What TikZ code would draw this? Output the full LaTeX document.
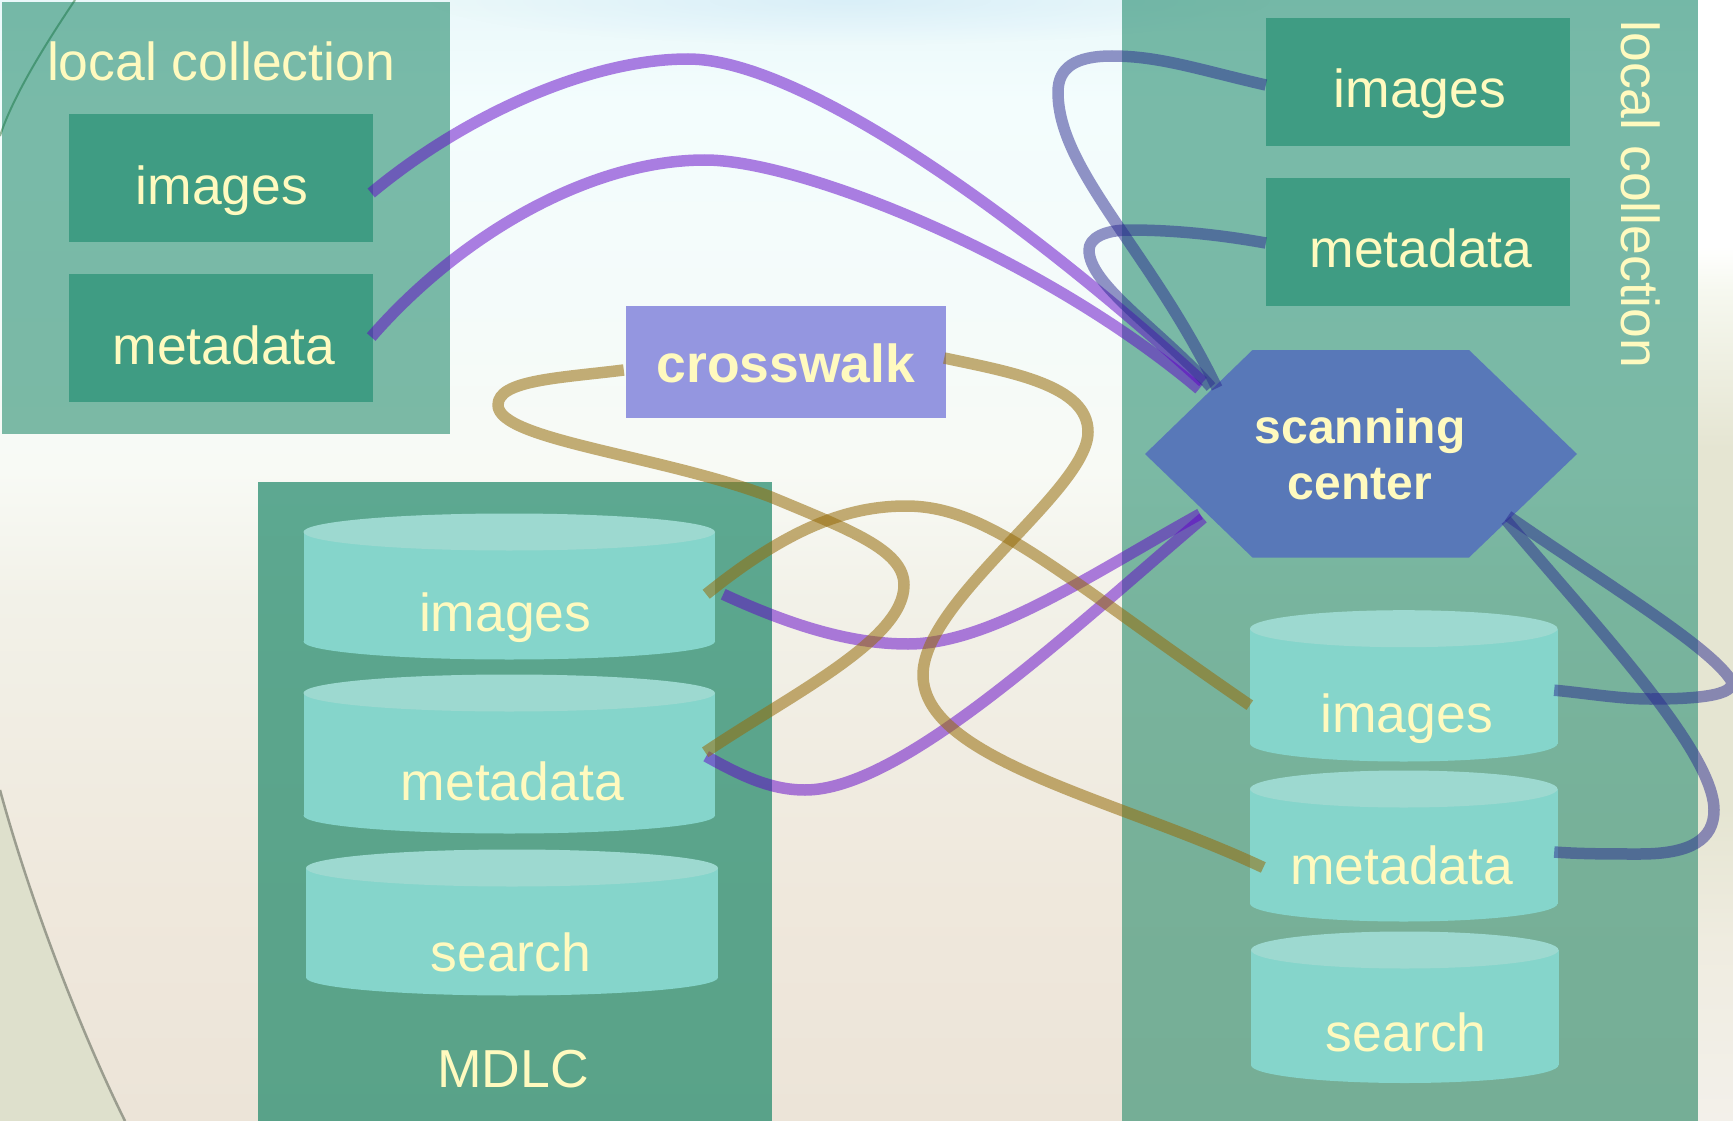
\documentclass[tikz,border=0pt]{standalone}
\usepackage{fontspec}
\setmainfont{Liberation Sans}
\usetikzlibrary{fadings}
\tikzfading[name=glowfade, inner color=transparent!25, outer color=transparent!100]
\definecolor{txtc}{HTML}{FFFABF}
\definecolor{panelc}{HTML}{007955}
\definecolor{mdlcc}{HTML}{1C8768}
\definecolor{innerc}{HTML}{3F9C83}
\definecolor{cylbody}{HTML}{85D5CB}
\definecolor{cyltop}{HTML}{9DD9D0}
\definecolor{crossc}{HTML}{9496E0}
\definecolor{hexc}{HTML}{5878B8}
\definecolor{purc}{HTML}{6000C8}
\definecolor{tanc}{HTML}{966C0A}
\definecolor{navc}{HTML}{2A2A90}
\definecolor{swoop}{HTML}{DEE0CC}
\definecolor{glowc}{HTML}{D4ECF8}
\definecolor{bgA}{HTML}{ECE4D8}\definecolor{bgB}{HTML}{EFE8DC}\definecolor{bgC}{HTML}{F2F1E8}
\definecolor{bgD}{HTML}{F8FAF5}\definecolor{bgE}{HTML}{F4FBFA}\definecolor{bgF}{HTML}{F3FDFD}\definecolor{bgG}{HTML}{EAF8FA}
\definecolor{rA}{HTML}{F3F0EA}\definecolor{rB}{HTML}{EFECE0}\definecolor{rC}{HTML}{E5E5D2}
\definecolor{rD}{HTML}{F6F8EF}\definecolor{rE}{HTML}{FFFFFF}
\pgfdeclareverticalshading{bgmain}{100bp}{
 color(0bp)=(bgA); color(25bp)=(bgA); color(34.9bp)=(bgB); color(48.2bp)=(bgC);
 color(54bp)=(bgD); color(61.6bp)=(bgE); color(70.5bp)=(bgF); color(75bp)=(bgG); color(100bp)=(bgG)}
\pgfdeclareverticalshading{bgright}{100bp}{
 color(0bp)=(rA); color(25bp)=(rA); color(33bp)=(rB); color(39bp)=(rC); color(55bp)=(rC);
 color(62bp)=(rD); color(64bp)=(rE); color(75bp)=(rE); color(100bp)=(rE)}
\newcommand{\tx}[2]{\makebox[0pt][c]{\kern #1pt\relax #2}}
\newcommand{\cyl}[9]{%
 \fill[cylbody] (#2,#5) rectangle (#3,#6);
 \fill[cylbody] (#4,#6) ellipse [x radius=#7pt, y radius=18pt];
 \fill[cyltop] (#4,#5) ellipse [x radius=#7pt, y radius=18.5pt];
 \node[cylnode, minimum width=#7pt*2, minimum height=#8pt, #9] (#1) at (#4,#5+#8/2-18.5) }
\tikzset{
 lbl/.style={text=txtc, font=\fontsize{53.5}{56}\selectfont, inner sep=0pt},
 panelbox/.style={lbl, rectangle, fill=panelc, fill opacity=.5, text opacity=1},
 mdlcbox/.style={lbl, rectangle, fill=mdlcc, fill opacity=.7, text opacity=1},
 innerbox/.style={lbl, rectangle, fill=innerc, minimum width=304pt, minimum height=128pt, text depth=0pt},
 crossbox/.style={lbl, rectangle, fill=crossc, font=\fontsize{53.5}{56}\selectfont\bfseries, text depth=0pt},
 cylnode/.style={lbl, rectangle, text depth=0pt},
 hexnode/.style={lbl, rectangle, font=\fontsize{48}{56}\selectfont\bfseries, align=center},
 conn/.style={line width=11.5pt, line cap=butt, line join=round},
 purconn/.style={conn, draw=purc, draw opacity=.5},
 tanconn/.style={conn, draw=tanc, draw opacity=.55},
 navconn/.style={conn, draw=navc, draw opacity=.5},
}
\begin{document}
\begin{tikzpicture}[x=1pt,y=-1pt]
\useasboundingbox (0,0) rectangle (1733,1121);
\clip (0,0) rectangle (1733,1121);
% background
\shade[shading=bgmain] (0,0) rectangle (1733,1121);
\shade[shading=bgright] (1698,0) rectangle (1733,1121);
\fill[glowc, path fading=glowfade] (850,0) ellipse [x radius=420pt, y radius=45pt];
\fill[swoop] (0,790) .. controls (30,900) and (80,1030) .. (125,1121) -- (0,1121) -- cycle;
\draw[line width=2.5pt, draw=black!30!swoop] (0,790) .. controls (30,900) and (80,1030) .. (125,1121);
\draw[line width=2pt, draw=green!30!black, opacity=.4] (75,0) .. controls (55,30) and (15,90) .. (0,136);
% panels
\node[panelbox, minimum width=448pt, minimum height=432pt, text height=0pt, text depth=274pt] (lpanel) at (226,218) {\tx{-10}{local collection}};
\node[mdlcbox, minimum width=514pt, minimum height=639pt, text height=572pt, text depth=0pt] (mpanel) at (515,801.5) {\tx{-4}{MDLC}};
\node[panelbox, minimum width=576pt, minimum height=1125pt] (rpanel) at (1410,560.5) {};
\node[lbl, rotate=-90, anchor=base] (rtitle) at (1621.6,194.5) {local collection};
% boxes
\node[innerbox, text height=53pt] (limg) at (221,178) {\tx{2}{images}};
\node[innerbox, text height=52pt] (lmeta) at (221,338) {\tx{6}{metadata}};
\node[innerbox, text height=52pt] (rimg) at (1418,82) {\tx{4}{images}};
\node[innerbox, text height=51pt] (rmeta) at (1418,242) {\tx{6}{metadata}};
\node[crossbox, minimum width=320pt, minimum height=112pt, text height=41pt] (cross) at (786,362) {crosswalk};
% hexagon
\fill[hexc] (1145,454) -- (1252.5,350) -- (1469,350) -- (1577,454) -- (1469,557.5) -- (1252.5,557.5) -- cycle;
\node[hexnode, minimum width=432pt, minimum height=207pt] (scan) at (1360,454) {\raisebox{-2pt}{scanning}\\\raisebox{-2pt}{center}};
% cylinders
\cyl{mimg}{303.5}{715}{509.25}{532}{641.5}{205.75}{145.5}{text height=90pt} {\tx{-8}{images}};
\cyl{mmeta}{303.5}{715}{509.25}{693}{815.5}{205.75}{159.5}{text height=92pt} {\tx{6}{metadata}};
\cyl{msearch}{306}{718}{512}{868}{977.5}{206}{145}{text height=99pt} {\tx{-2}{search}};
\cyl{rcimg}{1250}{1557.5}{1403.75}{628.7}{743.5}{153.75}{152}{text height=92pt} {\tx{6}{images}};
\cyl{rcmeta}{1250}{1557.5}{1403.75}{789}{903.5}{153.75}{152}{text height=76pt} {\tx{-4}{metadata}};
\cyl{rcsearch}{1251}{1558.5}{1404.75}{950}{1065}{153.75}{152.6}{text height=87pt} {\tx{3}{search}};
% purple connectors
\draw[purconn] ([xshift=-2pt,yshift=-15pt]limg.east) .. controls (465,115) and (590,59) .. (688,59)
  .. controls (800,59) and (1020,215) .. ([xshift=-157pt,yshift=72pt]scan.center);
\draw[purconn] ([xshift=-2pt,yshift=1pt]lmeta.east) .. controls (460,235) and (590,160) .. (705,160)
  .. controls (800,160) and (1040,255) .. ([xshift=-161pt,yshift=65pt]scan.center);
\draw[purconn] ([xshift=8pt,yshift=-8pt]mimg.east) .. controls (790,625) and (850,644) .. (908,644)
  .. controls (990,644) and (1090,575) .. ([xshift=-160pt,yshift=-60pt]scan.center);
\draw[purconn] ([xshift=-9pt,yshift=-2pt]mmeta.east) .. controls (740,775) and (770,790) .. (805,790)
  .. controls (900,790) and (1060,640) .. ([xshift=-157pt,yshift=-64pt]scan.center);
% tan connectors
\draw[tanconn] ([xshift=-2pt,yshift=-8pt]cross.west) .. controls (560,378) and (498,380) .. (498,405)
  .. controls (498,440) and (660,455) .. (771,497)
  .. controls (850,530) and (904,550) .. (904,585)
  .. controls (904,640) and (790,695) .. ([xshift=-10pt,yshift=2pt]mmeta.east);
\draw[tanconn] ([xshift=-2pt,yshift=4pt]cross.east) .. controls (1010,372) and (1088,385) .. (1088,432)
  .. controls (1088,490) and (923,600) .. (923,675)
  .. controls (923,760) and (1120,800) .. ([xshift=13.5pt,yshift=-21pt]rcmeta.west);
\draw[tanconn] ([xshift=-9pt,yshift=-8pt]mimg.east) .. controls (780,535) and (840,506) .. (906,506)
  .. controls (990,506) and (1060,575) .. ([yshift=-19pt]rcimg.west);
% navy connectors
\draw[navconn] ([yshift=-3pt]rimg.west) .. controls (1200,70) and (1160,56) .. (1112,56)
  .. controls (1075,56) and (1058,68) .. (1058,92)
  .. controls (1058,170) and (1150,250) .. ([xshift=-143pt,yshift=66pt]scan.center);
\draw[navconn] ([yshift=-1pt]rmeta.west) .. controls (1210,233) and (1165,230) .. (1129,230)
  .. controls (1105,230) and (1089,238) .. (1089,250)
  .. controls (1089,285) and (1160,330) .. ([xshift=-149pt,yshift=67pt]scan.center);
\draw[navconn] ([xshift=148pt,yshift=-62pt]scan.center) .. controls (1600,580) and (1700,640) .. (1728,676)
  .. controls (1745,695) and (1700,699) .. (1650,699)
  .. controls (1620,699) and (1585,693) .. ([xshift=-3.5pt,yshift=-4pt]rcimg.east);
\draw[navconn] ([xshift=146pt,yshift=-66pt]scan.center) .. controls (1590,620) and (1714,750) .. (1714,810)
  .. controls (1714,840) and (1690,854) .. (1640,854)
  .. controls (1610,854) and (1580,854) .. ([xshift=-3.5pt,yshift=-5.5pt]rcmeta.east);
\end{tikzpicture}
\end{document}
